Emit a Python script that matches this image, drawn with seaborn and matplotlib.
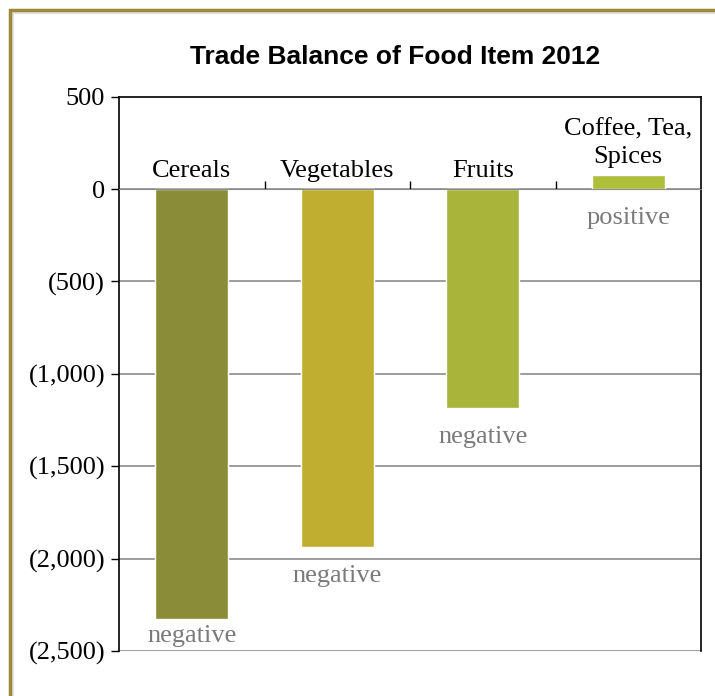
import numpy as np
import pandas as pd
import matplotlib
matplotlib.use("Agg")
import matplotlib.pyplot as plt
import seaborn as sns
from matplotlib.patches import Rectangle

categories = ["Cereals", "Vegetables", "Fruits", "Coffee, Tea,\nSpices"]
balance = [-2327, -1937, -1185, 76]
signs = ["negative", "negative", "negative", "positive"]
bar_colors = ["#8a8c38", "#bfae30", "#a8b43a", "#afbf3a"]
yticks = [500, 0, -500, -1000, -1500, -2000, -2500]

df = pd.DataFrame({"item": categories, "balance": balance})

sns.set_style("white")
plt.rcParams["text.color"] = "black"
plt.rcParams["ytick.labelcolor"] = "black"
serif = ["Liberation Serif", "DejaVu Serif"]

fig = plt.figure(figsize=(7.15, 6.96), dpi=100)
ax = fig.add_axes([119 / 715, 1 - 651 / 696, 582 / 715, (651 - 96.6) / 696])

sns.barplot(data=df, x="item", y="balance", hue="item", palette=bar_colors,
            width=0.5, saturation=1, legend=False, ax=ax)

ax.set_xlim(-0.5, 3.5)
ax.set_ylim(-2500, 500)

# gridlines below zero
for v in yticks[1:]:
    ax.axhline(v, color="#8c8c8c", lw=1.2, zorder=0.5)

# y ticks with accounting style labels
ax.set_yticks(yticks)
ax.set_yticklabels([f"({abs(v):,})" if v < 0 else f"{v}" for v in yticks],
                   fontfamily=serif, fontsize=19, color="black")
ax.tick_params(axis="y", direction="out", length=6, width=1, color="black", pad=4, left=True)

# x axis at zero with boundary ticks
ax.spines["bottom"].set_position(("data", 0))
ax.spines["bottom"].set_color("#8c8c8c")
ax.set_xticks([0.5, 1.5, 2.5])
ax.set_xticklabels([])
ax.tick_params(axis="x", direction="in", length=6, width=1, color="black", bottom=True)
for s in ["left", "right", "top"]:
    ax.spines[s].set_color("black")
    ax.spines[s].set_linewidth(1.2)
ax.set_xlabel("")
ax.set_ylabel("")

for i, (name, v, s) in enumerate(zip(categories, balance, signs)):
    ax.text(i, max(v, 0) + 65, name, ha="center", va="baseline",
            fontfamily=serif, fontsize=19, color="black", linespacing=1.35)
    ax.text(i, max(min(v, 0) - 100, -2360), s, ha="center", va="top",
            fontfamily=serif, fontsize=19, color="#7a7a7a")

fig.text(395 / 715, 1 - 57 / 696, "Trade Balance of Food Item 2012", ha="center", va="center",
         fontfamily=["Liberation Sans", "DejaVu Sans"], fontweight="bold", fontsize=19,
         color="black")

# frame around the figure
fig.patches.append(Rectangle((12 / 715, -0.2), 1.2, 1 - 12 / 696 + 0.2, transform=fig.transFigure,
                             fill=False, edgecolor="#e2e2e2", lw=3, zorder=0))
fig.patches.append(Rectangle((9.5 / 715, -0.2), 1.2, 1 - 9.5 / 696 + 0.2, transform=fig.transFigure,
                             fill=False, edgecolor="#9a8a3a", lw=2.5, zorder=1))

fig.savefig("out.png", dpi=100)
